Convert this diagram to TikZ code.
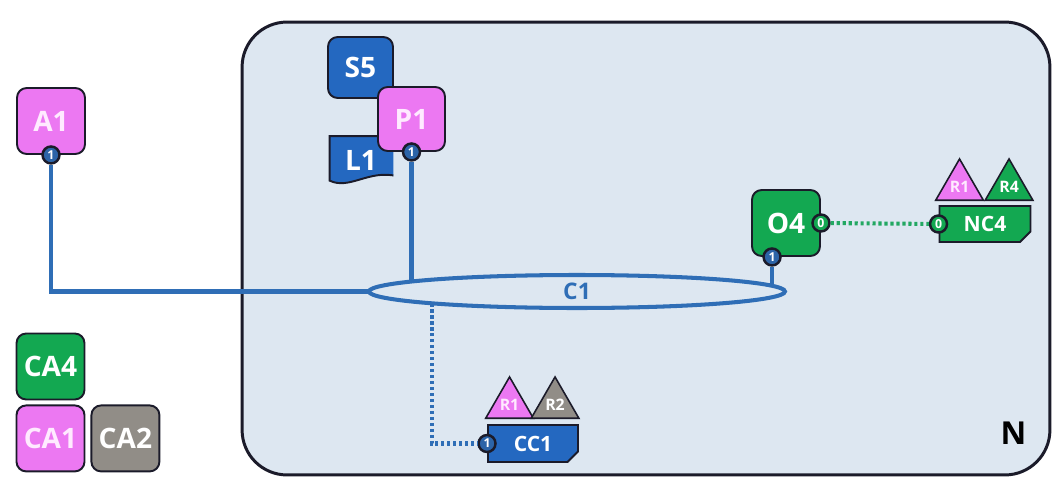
\documentclass[tikz,border=0pt]{standalone}
\usepackage{fontspec}
\setmainfont{Open Sans}
\usepackage{tikz}
\usetikzlibrary{shapes.geometric, shapes.misc, positioning, calc}

\definecolor{edge}{HTML}{1B1B2A}
\definecolor{zonefill}{HTML}{DDE7F1}
\definecolor{pinkfill}{HTML}{EC78F2}
\definecolor{pinktext}{HTML}{FFEAFF}
\definecolor{greenfill}{HTML}{13A851}
\definecolor{greenline}{HTML}{22A862}
\definecolor{bluefill}{HTML}{2468C0}
\definecolor{grayfill}{HTML}{918D87}
\definecolor{cableblue}{HTML}{2F6EB6}
\definecolor{portblue}{HTML}{2C64A8}

\begin{document}
\begin{tikzpicture}[
    x=0.02cm, y=-0.02cm,
    every node/.style={font=\bfseries},
    dev/.style={draw=edge, line width=1.1pt, rounded corners=5.5pt, minimum width=1.36cm, minimum height=1.32cm, text=white, font=\bfseries\fontsize{16}{18}\selectfont},
    pinkdev/.style={dev, fill=pinkfill, text=pinktext},
    greendev/.style={dev, fill=greenfill},
    bluedev/.style={dev, fill=bluefill},
    graydev/.style={dev, fill=grayfill},
    port/.style={circle, draw=edge, line width=1.4pt, fill=portblue, inner sep=0pt, minimum size=0.34cm, text=white, font=\bfseries\fontsize{7}{7}\selectfont},
    gport/.style={port, fill=greenfill},
    role/.style={regular polygon, regular polygon sides=3, draw=edge, line width=0.9pt, minimum size=1.08cm, inner sep=0pt, anchor=side 2, text=white, font=\bfseries\fontsize{9}{9}\selectfont},
    circuit/.style={chamfered rectangle, chamfered rectangle corners=south east, chamfered rectangle xsep=3pt, chamfered rectangle ysep=3pt, draw=edge, line width=1.1pt, minimum width=1.82cm, minimum height=0.72cm, inner sep=0pt, text=white, font=\bfseries\fontsize{12}{14}\selectfont},
    doc/.style={minimum width=1.3cm, minimum height=1.0cm, text=white, font=\bfseries\fontsize{16}{18}\selectfont,
        path picture={
            \filldraw[fill=bluefill, draw=edge, line width=1.1pt]
                ([xshift=0.6pt, yshift=-0.6pt]path picture bounding box.north west)
                -- ([xshift=2pt, yshift=-0.6pt]path picture bounding box.north east)
                -- ([xshift=2pt, yshift=5pt]path picture bounding box.south east)
                .. controls ([xshift=-14pt, yshift=9pt]path picture bounding box.south east)
                and ([xshift=12pt, yshift=-3pt]path picture bounding box.south west)
                .. ([xshift=0.6pt, yshift=2.5pt]path picture bounding box.south west) -- cycle;
        }},
    cable/.style={draw=cableblue, line width=2.3pt},
    dotlink/.style={line width=2.3pt, dash pattern=on 1.8pt off 1.6pt},
]
\useasboundingbox (0,0) rectangle (1063,487);

% ----- zone N -----
\node[draw=edge, line width=1.7pt, fill=zonefill, rounded corners=0.9cm, minimum width=16.16cm, minimum height=9.06cm] (zone) at (646,248.5) {};
\node[font=\bfseries\fontsize{18}{20}\selectfont] (nlabel) at ($(zone.south east)+(-38,-43)$) {N};

% ----- nodes -----
\node[pinkdev] (a1) at (51,121) {A1};
\node[port] (a1p) at (a1.south) {1};

\node[bluedev, minimum width=1.3cm, minimum height=1.22cm] (s5) at (360.5,67.5) {S5};
\node[doc] (l1) at (361,160) {L1};
\node[pinkdev, minimum width=1.34cm, minimum height=1.28cm] (p1) at (411.5,119) {P1};
\node[port] (p1p) at (p1.south) {1};

\node[greendev, minimum width=1.36cm, minimum height=1.32cm] (o4) at (786,223) {O4};
\node[gport] (o4p0) at (o4.east) {0};
\node[port] (o4p1) at ($(o4.south west)+(21,0)$) {1};

\node[circuit, fill=greenfill] (nc4) at (985,224) {NC4};
\node[gport] (nc4p) at (nc4.west) {0};
\node[role, fill=pinkfill, text=pinktext] (nc4r1) at ($(nc4.north west)+(21,-4)$) {R1};
\node[role, fill=greenfill] (nc4r4) at ($(nc4.north west)+(70.5,-4)$) {R4};

\node[circuit, fill=bluefill, minimum width=1.8cm, minimum height=0.74cm] (cc1) at (533,443.5) {CC1};
\node[port] (cc1p) at (cc1.west) {1};
\node[role, fill=pinkfill, text=pinktext] (cc1r1) at ($(cc1.north west)+(22.5,-5)$) {R1};
\node[role, fill=grayfill] (cc1r2) at ($(cc1.north west)+(68,-5)$) {R2};

\node[greendev] (ca4) at (50.5,366.5) {CA4};
\node[pinkdev, below=0.08cm of ca4] (ca1) {CA1};
\node[graydev, right=0.1cm of ca1] (ca2) {CA2};

% ----- links -----
\coordinate (tap) at (432,291.5);
\draw[cable] (a1p) |- (577,291.5);
\draw[cable] (p1p) -- (p1p |- tap);
\draw[cable] (o4p1) -- (o4p1 |- tap);
\draw[cable, dotlink] (tap) |- (cc1p);
\draw[dotlink, draw=greenline] (o4p0) -- (nc4p);

% ----- channel C1 (on top of the link ends) -----
\node[ellipse, draw=cableblue, line width=2.3pt, fill=zonefill, minimum width=8.32cm, minimum height=0.66cm, inner sep=0pt,
      label={[text=cableblue, font=\bfseries\fontsize{13}{14}\selectfont]center:C1}] (c1) at (577,291.5) {};
\end{tikzpicture}
\end{document}
